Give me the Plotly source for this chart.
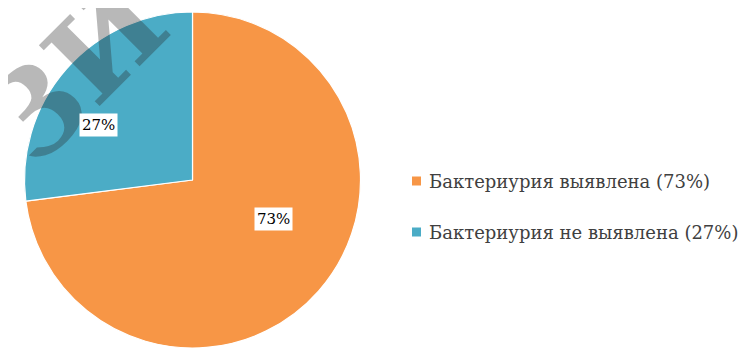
import plotly.graph_objects as go

labels = ["Бактериурия выявлена (73%)", "Бактериурия не выявлена (27%)"]
values = [73, 27]
slice_text = ["73%", "27%"]
colors = ["#F79646", "#4BACC6"]

W, H = 752, 349
OFF = 8  # page body margin
SERIF = "DejaVu Serif"


def px(x):
    return (x - OFF) / W


def py(y):
    return 1 - (y - OFF) / H


fig = go.Figure()
fig.add_trace(go.Pie(
    labels=labels, values=values, sort=False, direction="clockwise", rotation=0,
    marker=dict(colors=colors, line=dict(color="white", width=1.2)),
    textinfo="none", hoverinfo="label+percent", showlegend=False,
    domain=dict(x=[0, px(377)], y=[py(348), py(12)]),
))

# watermark
fig.add_annotation(x=px(76), y=py(72), xref="paper", yref="paper", text="<b>ЗИ</b>",
                   showarrow=False, textangle=-45, xanchor="center", yanchor="middle",
                   font=dict(family=SERIF, size=118, color="rgba(40,40,40,0.33)"))

# in-slice labels with white boxes
label_pos = [(273, 219), (98, 125)]
for txt, (lx, ly) in zip(slice_text, label_pos):
    fig.add_annotation(x=px(lx), y=py(ly), xref="paper", yref="paper",
                       xanchor="center", yanchor="middle",
                       text=txt, showarrow=False, bgcolor="white", borderpad=2,
                       font=dict(family=SERIF, size=15, color="#000000"))

# legend
leg_y = [181, 232]
for lab, col, ly in zip(labels, colors, leg_y):
    fig.add_shape(type="rect", xref="paper", yref="paper",
                  x0=px(412), x1=px(421), y0=py(ly + 4.5), y1=py(ly - 4.5),
                  fillcolor=col, line=dict(width=0))
    fig.add_annotation(x=px(427), y=py(ly), xref="paper", yref="paper",
                       xanchor="left", yanchor="middle", text=lab, showarrow=False,
                       font=dict(family=SERIF, size=18, color="#404040"))

fig.update_layout(width=W, height=H, margin=dict(l=0, r=0, t=0, b=0),
                  paper_bgcolor="white", plot_bgcolor="white")
fig.write_html("out.html")
